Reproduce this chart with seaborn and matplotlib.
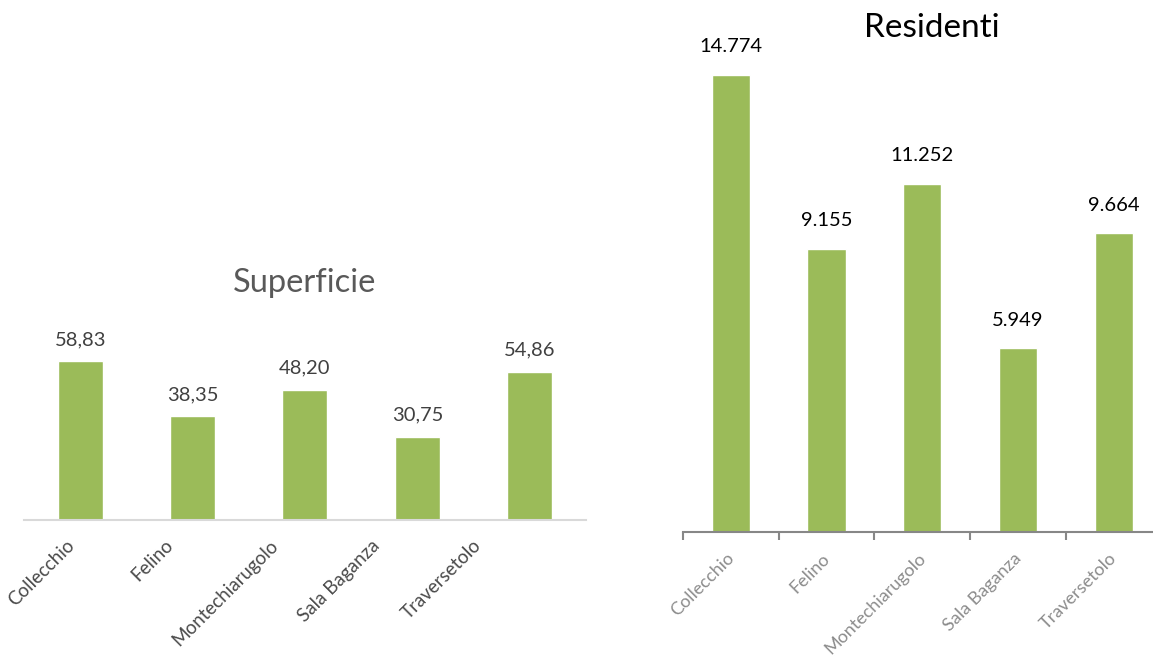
import matplotlib
matplotlib.use("Agg")
import matplotlib.pyplot as plt
import matplotlib.transforms as mtransforms
import seaborn as sns
import pandas as pd

# data
comuni = ["Collecchio", "Felino", "Montechiarugolo", "Sala Baganza", "Traversetolo"]
superficie = [58.83, 38.35, 48.20, 30.75, 54.86]
residenti = [14774, 9155, 11252, 5949, 9664]

df = pd.DataFrame({"comune": comuni, "superficie": superficie, "residenti": residenti})

sns.set_style("white")
plt.rcParams["font.family"] = ["Lato", "DejaVu Sans"]

green = "#9bbb59"
fig = plt.figure(figsize=(11.53, 6.63), dpi=100)

# left chart: Superficie
ax1 = fig.add_axes([0.0208, 0.2157, 0.4874, 0.285])
sns.barplot(data=df, x="comune", y="superficie", color=green, width=0.4,
            saturation=1, ax=ax1)
ax1.set_ylim(0, 70)
ax1.set_xlim(-0.5, 4.5)
for i, v in enumerate(superficie):
    ax1.annotate(f"{v:.2f}".replace(".", ","), (i, v), xytext=(0, 9.5),
                 textcoords="offset points", ha="center", va="bottom",
                 fontsize=14.5, color="#404040")
ax1.set_title("Superficie", fontsize=23.5, color="#595959", pad=28)
ax1.set_xlabel("")
ax1.set_ylabel("")
ax1.set_yticks([])
for s in ["left", "right", "top"]:
    ax1.spines[s].set_visible(False)
ax1.spines["bottom"].set_color("#d9d9d9")
ax1.spines["bottom"].set_linewidth(1.5)
ax1.tick_params(axis="x", length=0, pad=12)
plt.setp(ax1.get_xticklabels(), rotation=45, ha="right", rotation_mode="anchor",
         fontsize=13.5, color="#4a4a4a")
# excel drifts these labels leftwards
shift_px = [-14, -28, -36, -46, -57]
for lab, dx in zip(ax1.get_xticklabels(), shift_px):
    lab.set_transform(lab.get_transform() +
                      mtransforms.ScaledTranslation(dx / 100, 0, fig.dpi_scale_trans))

# right chart: Residenti
ax2 = fig.add_axes([0.5924, 0.1976, 0.415, 0.7466])
sns.barplot(data=df, x="comune", y="residenti", color=green, width=0.4,
            saturation=1, ax=ax2)
ax2.set_ylim(0, 16000)
ax2.set_xlim(-0.5, 4.5)
for i, v in enumerate(residenti):
    ax2.annotate(f"{v:,}".replace(",", "."), (i, v), xytext=(0, 14),
                 textcoords="offset points", ha="center", va="bottom",
                 fontsize=14.5, color="black")
ax2.set_title("Residenti", fontsize=24, color="black", pad=0, x=0.52)
ax2.set_xlabel("")
ax2.set_ylabel("")
ax2.set_yticks([])
for s in ["left", "right", "top"]:
    ax2.spines[s].set_visible(False)
ax2.spines["bottom"].set_color("#878787")
ax2.spines["bottom"].set_linewidth(1.5)
ax2.set_xticks([-0.5, 0.5, 1.5, 2.5, 3.5, 4.5], minor=True)
ax2.tick_params(axis="x", which="major", length=0, pad=13)
ax2.tick_params(axis="x", which="minor", length=6, width=1.5, color="#878787",
                direction="out", bottom=True)
plt.setp(ax2.get_xticklabels(), rotation=45, ha="right", rotation_mode="anchor",
         fontsize=13, color="#8c8c8c")
for lab in ax2.get_xticklabels():
    lab.set_transform(lab.get_transform() +
                      mtransforms.ScaledTranslation(-5 / 100, 0, fig.dpi_scale_trans))

fig.savefig("out.png", dpi=100)
